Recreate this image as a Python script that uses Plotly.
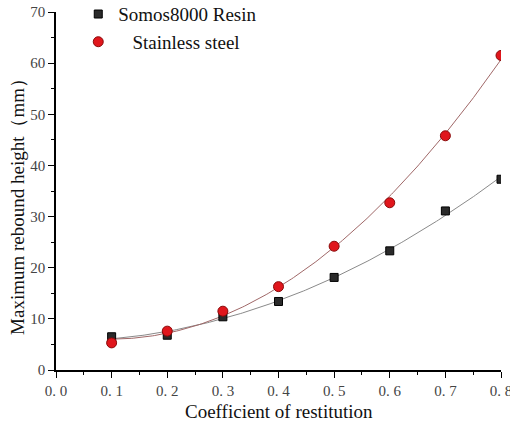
import numpy as np
import plotly.graph_objects as go

# Coefficient of restitution and measured maximum rebound heights (mm)
restitution = [0.1, 0.2, 0.3, 0.4, 0.5, 0.6, 0.7, 0.8]
resin_height = [6.5, 6.8, 10.4, 13.4, 18.1, 23.3, 31.1, 37.3]
steel_height = [5.3, 7.6, 11.5, 16.3, 24.2, 32.7, 45.8, 61.5]

x_ticks = [0.0, 0.1, 0.2, 0.3, 0.4, 0.5, 0.6, 0.7, 0.8]
x_tick_text = ["0. 0", "0. 1", "0. 2", "0. 3", "0. 4", "0. 5", "0. 6", "0. 7", "0. 8"]
y_ticks = [0, 10, 20, 30, 40, 50, 60, 70]

SERIF = "Liberation Serif, Times New Roman, serif"

# Quadratic trend lines through each series
xs = np.linspace(min(restitution), max(restitution), 200)
resin_fit = np.polyval(np.polyfit(restitution, resin_height, 2), xs)
steel_fit = np.polyval(np.polyfit(restitution, steel_height, 2), xs)

fig = go.Figure()
fig.add_trace(go.Scatter(x=xs, y=resin_fit, mode="lines",
                         line=dict(color="#8a8a8a", width=1), showlegend=False,
                         hoverinfo="skip"))
fig.add_trace(go.Scatter(x=xs, y=steel_fit, mode="lines",
                         line=dict(color="#a06868", width=1), showlegend=False,
                         hoverinfo="skip"))
fig.add_trace(go.Scatter(x=restitution, y=resin_height, mode="markers",
                         name="Somos8000 Resin",
                         marker=dict(symbol="square", size=8, color="#2a2a2a",
                                     line=dict(color="#000000", width=1))))
fig.add_trace(go.Scatter(x=restitution, y=steel_height, mode="markers",
                         name="   Stainless steel",
                         marker=dict(symbol="circle", size=10, color="#e0161c",
                                     line=dict(color="#8a0a0a", width=1))))

axis_common = dict(
    showline=True, linecolor="#000000", linewidth=1.5,
    ticks="outside", ticklen=6, tickwidth=1.2, tickcolor="#000000",
    showgrid=False, zeroline=False, mirror=False, automargin=False,
    tickfont=dict(family=SERIF, size=15, color="#444444"),
)

fig.update_xaxes(
    range=[0.0, 0.8], tickvals=x_ticks, ticktext=x_tick_text,
    ticklabeloverflow="allow",
    minor=dict(ticks="outside", ticklen=3, tickwidth=1.2, tickcolor="#000000",
               dtick=0.05, showgrid=False),
    **axis_common,
)
fig.update_yaxes(
    range=[0, 70], tickvals=y_ticks,
    minor=dict(ticks="outside", ticklen=3, tickwidth=1.2, tickcolor="#000000",
               dtick=5, showgrid=False),
    **axis_common,
)

# Axis titles
fig.add_annotation(text="Coefficient of restitution", xref="paper", yref="paper",
                   x=0.5, y=-0.117, xanchor="center", yanchor="middle",
                   showarrow=False, font=dict(family=SERIF, size=19, color="#111111"))
fig.add_annotation(text="Maximum rebound height（mm）", xref="paper", yref="paper",
                   x=-0.085, y=0.47, xanchor="center", yanchor="middle", textangle=-90,
                   showarrow=False, font=dict(family=SERIF, size=19, color="#111111"))

fig.update_layout(
    width=510, height=423,
    margin=dict(l=56, r=9, t=12, b=53, autoexpand=False),
    plot_bgcolor="white", paper_bgcolor="white",
    legend=dict(x=0.05, y=1.047, xanchor="left", yanchor="top",
                bgcolor="rgba(0,0,0,0)",
                font=dict(family=SERIF, size=19, color="#111111"),
                tracegroupgap=0),
)

fig.write_html("out.html")
